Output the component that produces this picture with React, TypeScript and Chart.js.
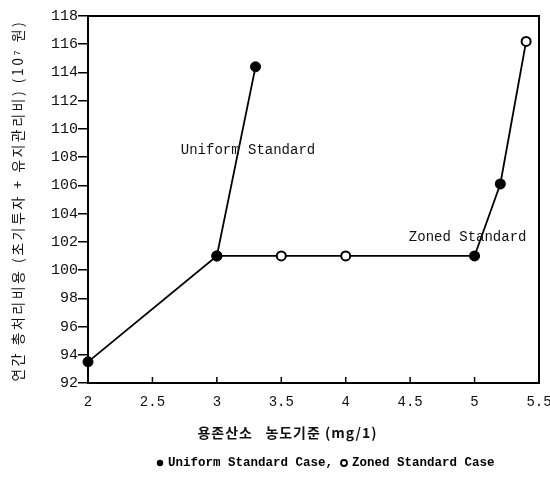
import React, { useEffect, useRef } from "react";
import { Chart, registerables } from "chart.js";

Chart.register(...registerables);

// Dissolved-oxygen standard (mg/l) vs. annual total treatment cost (10^7 won)
const uniformX = [2, 3, 3.3];
const uniformY = [93.5, 101, 114.4];
const zonedX = [3, 3.5, 4, 5, 5.2, 5.4];
const zonedY = [101, 101, 101, 101, 106.1, 116.2];
const zonedFilled = [true, false, false, true, true, false];

const xTicks = [2, 2.5, 3, 3.5, 4, 4.5, 5, 5.5];
const yTicks = [92, 94, 96, 98, 100, 102, 104, 106, 108, 110, 112, 114, 116, 118];

const yTitle = "연간 총처리비용 (초기투자 + 유지관리비) (10\u2077 원)";
const xTitle = "용존산소   농도기준 (mg/1)";
const uniformLabel = "Uniform Standard Case,";
const zonedLabel = "Zoned Standard Case";
const notes = [
  { text: "Uniform Standard", x: 2.72, y: 108.5 },
  { text: "Zoned Standard", x: 4.49, y: 102.3 },
];

const MONO = "'Liberation Mono', 'DejaVu Sans Mono', monospace";
const KR = "'Noto Sans CJK KR', sans-serif";

// draw text stretched by letter spacing to a given overall length
function spacedText(ctx: any, text: string, length: number) {
  ctx.letterSpacing = "0px";
  const w = ctx.measureText(text).width;
  const n = Array.from(text).length;
  const sp = Math.max(0, (length - w) / n);
  ctx.letterSpacing = `${sp}px`;
  ctx.fillText(text, sp / 2, 0);
  ctx.letterSpacing = "0px";
}

const framePlugin = {
  id: "frame",
  afterDatasetsDraw(chart: any) {
    const { ctx, chartArea: a, scales } = chart;
    ctx.save();
    ctx.strokeStyle = "#000";
    ctx.lineWidth = 2;
    ctx.strokeRect(a.left, a.top, a.right - a.left, a.bottom - a.top);
    // inward tick marks on the x axis
    ctx.lineWidth = 1.5;
    xTicks.forEach((v) => {
      const px = scales.x.getPixelForValue(v);
      ctx.beginPath();
      ctx.moveTo(px, a.bottom);
      ctx.lineTo(px, a.bottom - 6);
      ctx.stroke();
    });
    // curve annotations
    ctx.fillStyle = "#111";
    ctx.font = `14px ${MONO}`;
    ctx.textBaseline = "middle";
    ctx.textAlign = "left";
    notes.forEach((n) => {
      ctx.fillText(n.text, scales.x.getPixelForValue(n.x), scales.y.getPixelForValue(n.y));
    });

    // y-axis title, rotated
    ctx.textAlign = "center";
    ctx.font = `14px ${KR}`;
    ctx.save();
    ctx.translate(18, 202);
    ctx.rotate(-Math.PI / 2);
    spacedText(ctx, yTitle, 362);
    ctx.restore();

    // x-axis title
    ctx.font = `bold 14px ${KR}`;
    ctx.save();
    ctx.translate(287, 433);
    spacedText(ctx, xTitle, 180);
    ctx.restore();

    // legend
    const ly = 463;
    ctx.font = `bold 12.5px ${MONO}`;
    ctx.textAlign = "left";
    ctx.fillStyle = "#000";
    ctx.beginPath();
    ctx.arc(160, ly, 3.2, 0, Math.PI * 2);
    ctx.fill();
    ctx.fillText(uniformLabel, 168, ly);
    ctx.beginPath();
    ctx.arc(344, ly, 3, 0, Math.PI * 2);
    ctx.lineWidth = 1.8;
    ctx.stroke();
    ctx.fillText(zonedLabel, 352, ly);
    ctx.restore();
  },
};

export default function App() {
  const ref = useRef<HTMLCanvasElement | null>(null);

  useEffect(() => {
    if (!ref.current) return;
    const chart = new Chart(ref.current, {
      type: "line",
      data: {
        datasets: [
          {
            label: uniformLabel,
            data: uniformX.map((x, i) => ({ x, y: uniformY[i] })),
            borderColor: "#000",
            borderWidth: 1.8,
            pointRadius: 5,
            pointBackgroundColor: "#000",
            pointBorderColor: "#000",
            pointBorderWidth: 1,
            tension: 0,
            clip: false,
          },
          {
            label: zonedLabel,
            data: zonedX.map((x, i) => ({ x, y: zonedY[i] })),
            borderColor: "#000",
            borderWidth: 1.8,
            pointRadius: 4.5,
            pointBackgroundColor: zonedFilled.map((f) => (f ? "#000" : "#fff")),
            pointBorderColor: "#000",
            pointBorderWidth: 2,
            tension: 0,
            clip: false,
          },
        ],
      },
      options: {
        animation: false,
        responsive: false,
        layout: { padding: { top: 16, right: 11, left: 0, bottom: 52 } },
        plugins: {
          tooltip: { enabled: false },
          legend: { display: false },
        },
        scales: {
          x: {
            type: "linear",
            min: 2,
            max: 5.5,
            afterBuildTicks: (s: any) => {
              s.ticks = xTicks.map((v) => ({ value: v }));
            },
            afterFit: (s: any) => {
              s.height = 59;
              s.paddingRight = 0;
              s.paddingLeft = 0;
            },
            grid: { display: false, drawTicks: false },
            border: { display: false },
            ticks: {
              color: "#111",
              padding: 11,
              maxRotation: 0,
              font: { family: MONO, size: 14 },
              callback: (v: any) => String(v),
            },
          },
          y: {
            type: "linear",
            min: 92,
            max: 118,
            afterBuildTicks: (s: any) => {
              s.ticks = yTicks.map((v) => ({ value: v }));
            },
            afterFit: (s: any) => {
              s.width = 88;
              s.paddingTop = 0;
              s.paddingBottom = 0;
            },
            grid: { drawOnChartArea: false, drawTicks: true, tickLength: 10, color: "#000", lineWidth: 1.5 },
            border: { display: false },
            ticks: {
              color: "#111",
              padding: 0,
              font: { family: MONO, size: 15 },
            },
          },
        },
      } as any,
      plugins: [framePlugin],
    });
    return () => chart.destroy();
  }, []);

  return (
    <div style={{ position: "fixed", left: 0, top: 0, width: 550, height: 494, background: "#fff" }}>
      <canvas ref={ref} width={550} height={494} />
    </div>
  );
}
